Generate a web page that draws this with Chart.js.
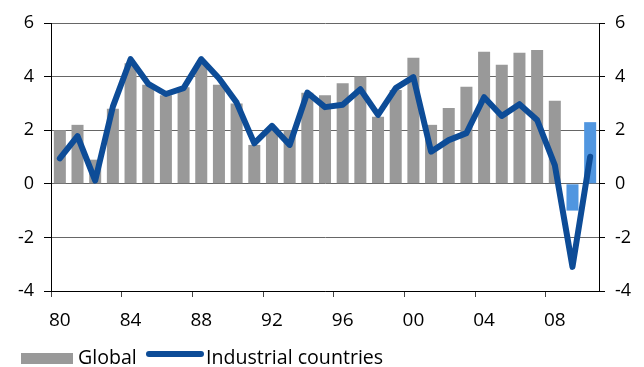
<!DOCTYPE html>
<html>
<head>
<meta charset="utf-8">
<script src="https://cdn.jsdelivr.net/npm/chart.js@4"></script>
<style>
  html, body { margin: 0; padding: 0; background: #fff; }
  #wrap { position: relative; width: 644px; height: 367px; overflow: hidden; }
  .lg { position: absolute; }
  .lg-text { font-family: "Open Sans", sans-serif; font-size: 19.6px; line-height: 20px; color: #000; white-space: nowrap; top: 347px; }
  .swatch-bar { left: 21px; top: 353px; width: 52px; height: 11px; background: #999999; }
  .swatch-line { left: 146px; top: 351px; width: 58px; height: 6px; border-radius: 3px; background: #0d4c97; }
</style>
</head>
<body>
<div id="wrap">
  <canvas id="growthChart"></canvas>
  <span class="lg swatch-bar"></span>
  <span class="lg lg-text" style="left:78px">Global</span>
  <span class="lg swatch-line"></span>
  <span class="lg lg-text" style="left:206px">Industrial countries</span>
</div>

<script>
// years 1980 - 2010, two digit labels
let years = ["80","81","82","83","84","85","86","87","88","89",
             "90","91","92","93","94","95","96","97","98","99",
             "00","01","02","03","04","05","06","07","08","09","10"];

// GDP growth, global (bars) - last two are forecasts
let globalGrowth = [2.0, 2.2, 0.9, 2.8, 4.5, 3.7, 3.3, 3.6, 4.5, 3.7,
                    3.0, 1.45, 2.0, 2.0, 3.4, 3.3, 3.75, 4.0, 2.5, 3.5,
                    4.7, 2.2, 2.83, 3.62, 4.93, 4.44, 4.89, 4.99, 3.1, -1.0, 2.3];

// GDP growth, industrial countries (line)
let industrialGrowth = [0.95, 1.78, 0.12, 2.88, 4.65, 3.73, 3.35, 3.57, 4.65, 3.94,
                        3.03, 1.51, 2.16, 1.45, 3.4, 2.86, 2.95, 3.53, 2.57, 3.57,
                        3.98, 1.2, 1.63, 1.89, 3.23, 2.53, 2.97, 2.38, 0.7, -3.1, 1.01];

let yTicks = [-4, -2, 0, 2, 4, 6];

let forecastStart = 29; // index of first forecast year (09)

let barColors = years.map((y, i) => i >= forecastStart ? "#5096e0" : "#999999");

let ctx = document.getElementById("growthChart").getContext("2d");

new Chart(ctx, {
    data: {
        labels: years,
        datasets: [
            {
                type: "line",
                label: "Industrial countries",
                data: industrialGrowth,
                borderColor: "#0d4c97",
                borderWidth: 6,
                pointRadius: 0,
                tension: 0,
                borderCapStyle: "round",
                borderJoinStyle: "round",
                order: 0
            },
            {
                type: "bar",
                label: "Global",
                data: globalGrowth,
                backgroundColor: barColors,
                categoryPercentage: 1,
                barPercentage: 0.68,
                order: 1
            }
        ]
    },
    options: {
        responsive: true,
        maintainAspectRatio: false,
        animation: false,
        layout: { padding: { top: 23, bottom: 36, left: 0, right: 0 } },
        plugins: {
            legend: { display: false },
            tooltip: { enabled: false }
        },
        scales: {
            x: {
                offset: true,
                grid: {
                    offset: true,
                    drawOnChartArea: false,
                    tickLength: 6,
                    tickColor: (c) => (c.index % 4 === 0 ? "#444" : "rgba(0,0,0,0)")
                },
                border: { color: "#000", width: 1 },
                ticks: {
                    autoSkip: false,
                    maxRotation: 0,
                    padding: 12,
                    color: "#000",
                    font: { family: "Open Sans", size: 19 },
                    callback: function (val, i) { return i % 4 === 0 ? years[i] : ""; }
                },
                afterFit: (scale) => { scale.height = 40; }
            },
            y: {
                position: "left",
                min: -4,
                max: 6,
                afterBuildTicks: (scale) => { scale.ticks = yTicks.map(v => ({ value: v })); },
                grid: { color: "#666", tickColor: "#000", tickLength: 7 },
                border: { color: "#000", width: 1 },
                ticks: { padding: 10, color: "#000", font: { family: "Open Sans", size: 18 } },
                afterFit: (scale) => { scale.width = 51; }
            },
            y2: {
                position: "right",
                min: -4,
                max: 6,
                afterBuildTicks: (scale) => { scale.ticks = yTicks.map(v => ({ value: v })); },
                grid: { drawOnChartArea: false, tickColor: "#000", tickLength: 6 },
                border: { color: "#000", width: 1 },
                ticks: { padding: 10, color: "#000", font: { family: "Open Sans", size: 18 } },
                afterFit: (scale) => { scale.width = 45; }
            }
        }
    }
});
</script>
</body>
</html>
